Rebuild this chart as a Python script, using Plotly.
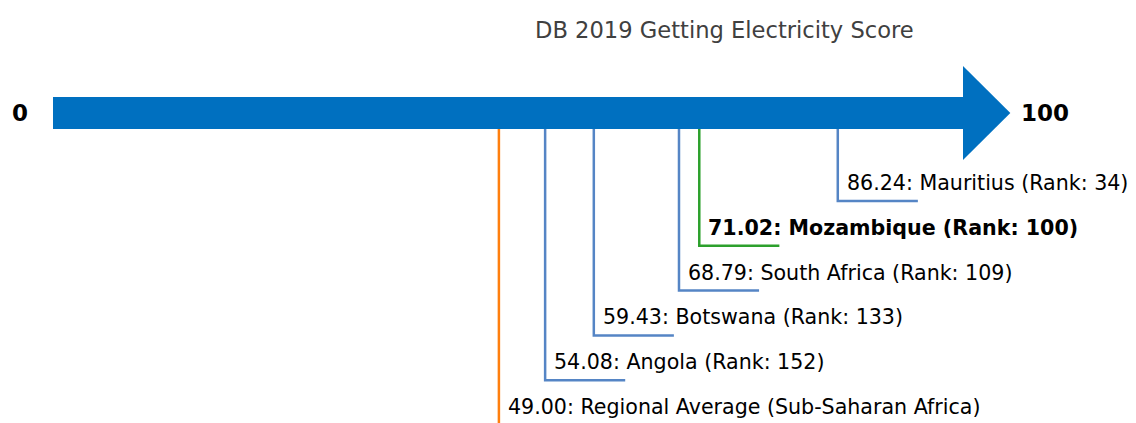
import plotly.graph_objects as go

title = "DB 2019 Getting Electricity Score"
names = ["Mauritius", "Mozambique", "South Africa", "Botswana", "Angola", "Regional Average (Sub-Saharan Africa)"]
scores = [86.24, 71.02, 68.79, 59.43, 54.08, 49.00]
ranks = [34, 100, 109, 133, 152, None]
kinds = ["peer", "focus", "peer", "peer", "peer", "region"]
axis_min, axis_max = 0, 100

# window is 1136x423, page body has an 8px margin
WIN_W, WIN_H, PAGE_M = 1136, 423, 8
W, H = WIN_W - PAGE_M, WIN_H - PAGE_M
x0_px, px_per_unit = 53, 9.1
x_range = [axis_min + (PAGE_M - x0_px) / px_per_unit, axis_min + (WIN_W - x0_px) / px_per_unit]

colors = {"peer": "#5585C5", "focus": "#2CA02C", "region": "#FF7F0E"}
font = "DejaVu Sans, Verdana, sans-serif"

bar_top, bar_bot, bar_mid = 97, 129, 113
head_top, head_bot, head_len = 66, 160, 5.2
level0, level_step = 201, 44.8
hook = 8.8

fig = go.Figure()
shapes = []
annotations = []

shapes.append(dict(type="rect", x0=axis_min, x1=axis_max, y0=bar_top, y1=bar_bot,
                   fillcolor="#0070C0", line=dict(width=0), layer="below"))
shapes.append(dict(type="path",
                   path=f"M {axis_max} {head_top} L {axis_max + head_len} {bar_mid} L {axis_max} {head_bot} Z",
                   fillcolor="#0070C0", line=dict(width=0), layer="below"))

for i, (n, s, r, k) in enumerate(zip(names, scores, ranks, kinds)):
    y = level0 + i * level_step
    c = colors[k]
    if k == "region":
        shapes.append(dict(type="line", x0=s, x1=s, y0=bar_bot, y1=WIN_H + 5,
                           line=dict(color=c, width=2.5)))
        label = f"{s:.2f}: {n}"
    else:
        shapes.append(dict(type="path", path=f"M {s} {bar_bot} L {s} {y} L {s + hook} {y}",
                           line=dict(color=c, width=2.5)))
        label = f"{s:.2f}: {n} (Rank: {r})"
    if k == "focus":
        label = f"<b>{label}</b>"
    annotations.append(dict(x=s, y=y - 18, text=label, xanchor="left", yanchor="middle",
                            xshift=7, showarrow=False,
                            font=dict(family=font, size=20.6, color="#000000")))

annotations.append(dict(x=axis_min, y=bar_mid, text=f"<b>{axis_min}</b>", xanchor="right",
                        yanchor="middle", xshift=-23, showarrow=False,
                        font=dict(family=font, size=23, color="#000000")))
annotations.append(dict(x=axis_max + head_len, y=bar_mid, text=f"<b>{axis_max}</b>", xanchor="left",
                        yanchor="middle", xshift=9, showarrow=False,
                        font=dict(family=font, size=23, color="#000000")))
annotations.append(dict(x=(axis_min + axis_max) / 2 + 23.8, y=30, text=title, xanchor="center",
                        yanchor="middle", showarrow=False,
                        font=dict(family=font, size=22.6, color="#404040")))

fig.update_layout(
    width=W, height=H, margin=dict(l=0, r=0, t=0, b=0),
    paper_bgcolor="white", plot_bgcolor="white",
    shapes=shapes, annotations=annotations, showlegend=False,
    xaxis=dict(range=x_range, visible=False, fixedrange=True),
    yaxis=dict(range=[WIN_H, PAGE_M], visible=False, fixedrange=True),
)
fig.write_html("out.html")
